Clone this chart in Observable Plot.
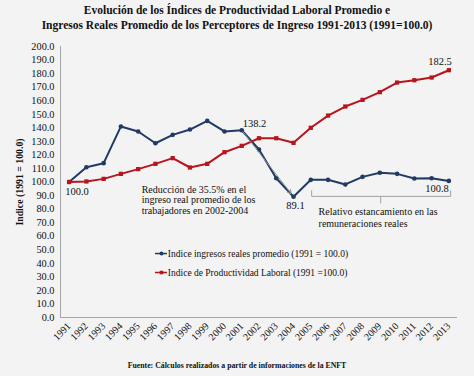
<!DOCTYPE html>
<html><head><meta charset="utf-8">
<script src="https://cdn.jsdelivr.net/npm/d3@7"></script>
<script src="https://cdn.jsdelivr.net/npm/@observablehq/plot@0.6"></script>
<style>
body{margin:0;background:#f3f3f3;width:474px;height:376px;overflow:hidden;font-family:"Liberation Serif",serif;color:#111}
#title{text-align:center;font-weight:bold;font-size:11.5px;line-height:15px;padding-top:3px;height:31px;}
#chart svg{display:block}
#chart svg, #chart svg text{font-family:"Liberation Serif",serif !important}
#chart g[aria-label="y-axis label"] text{font-weight:bold;font-size:9.8px}
#caption{text-align:center;font-weight:bold;font-size:7.8px;line-height:14px;padding-top:3px;}
</style></head>
<body>
<div id="title">Evolución de los Índices de Productividad Laboral Promedio e<br>Ingresos Reales Promedio de los Perceptores de Ingreso 1991-2013 (1991=100.0)</div>
<div id="chart"></div>
<div id="caption">Fuente: Cálculos realizados a partir de informaciones de la ENFT</div>
<script>
const years=[1991,1992,1993,1994,1995,1996,1997,1998,1999,2000,2001,2002,2003,2004,2005,2006,2007,2008,2009,2010,2011,2012,2013];
const ingresos=[100.0,110.9,113.9,141.0,137.3,128.6,134.8,138.7,145.1,137.3,138.2,124.0,102.8,89.1,101.6,101.6,98.2,103.8,106.8,106.0,102.6,102.8,100.8];
const productividad=[100.0,100.4,102.3,106.0,109.5,113.4,117.6,110.7,113.4,122.0,126.7,132.3,132.3,128.9,140.0,149.0,155.7,160.6,166.3,173.4,175.1,177.1,182.5];
const yTicks=[0,10,20,30,40,50,60,70,80,90,100,110,120,130,140,150,160,170,180,190,200];
const seriesNames=["Indice ingresos reales promedio (1991 = 100.0)","Indice de Productividad Laboral (1991 =100.0)"];
const seriesColors=["#1f3a63","#b7141d"];
const noteReduccion="Reducción de 35.5% en el\ningreso real promedio de los\ntrabajadores en 2002-2004";
const noteEstancamiento="Relativo estancamiento en las\nremuneraciones reales";

const rows=[];
years.forEach((yr,i)=>{
  rows.push({year:yr,value:ingresos[i],s:0});
  rows.push({year:yr,value:productividad[i],s:1});
});
const blue=rows.filter(d=>d.s===0), red=rows.filter(d=>d.s===1);

const valueLabels=[
  {year:1991,value:ingresos[0],dx:-4,dy:10,anchor:"start"},
  {year:2001,value:ingresos[10],dx:1,dy:-7,anchor:"start"},
  {year:2004,value:ingresos[13],dx:2,dy:9,anchor:"middle"},
  {year:2013,value:productividad[22],dx:3,dy:-9,anchor:"end"},
  {year:2013,value:ingresos[22],dx:0,dy:8,anchor:"end"}
];
const legend=[
  {label:seriesNames[0],color:seriesColors[0],symbol:"circle",y:47.2},
  {label:seriesNames[1],color:seriesColors[1],symbol:"square",y:33.2}
];
const bracket=[{x:2005.05,y:93.5},{x:2005.05,y:89.4},{x:2013.1,y:89.4},{x:2013.1,y:93.5}];
const bracketTick=[{x:2009.05,y1:89.4,y2:84.2}];

const chart=Plot.plot({
  width:474,height:322,marginTop:12,marginBottom:39,marginLeft:60,marginRight:17,
  style:{fontFamily:"Liberation Serif, serif",fontSize:"10px",background:"transparent",color:"#111"},
  x:{domain:[1990.5,2013.5]},
  y:{domain:[0,200]},
  marks:[
    Plot.ruleX([1990.5],{stroke:"#a6a6a6"}),
    Plot.ruleY([0],{stroke:"#a6a6a6"}),
    Plot.axisY({ticks:yTicks,tickFormat:d=>d.toFixed(1),tickSize:0,tickPadding:6,fontSize:10.3,label:"Indice (1991 = 100.0)",labelAnchor:"center",labelArrow:"none",labelOffset:44}),
    Plot.axisX({ticks:years,tickFormat:d=>String(d),tickRotate:-45,tickSize:0,tickPadding:7,fontSize:10,label:null}),
    Plot.line(blue,{x:"year",y:"value",stroke:seriesColors[0],strokeWidth:2}),
    Plot.dot(blue,{x:"year",y:"value",fill:seriesColors[0],r:2.3,symbol:"circle"}),
    Plot.line(red,{x:"year",y:"value",stroke:seriesColors[1],strokeWidth:2}),
    Plot.dot(red,{x:"year",y:"value",fill:seriesColors[1],r:2.4,symbol:"square"}),
    Plot.text(valueLabels.filter(d=>d.anchor==="start"&&d.dy>0),{x:"year",y:"value",text:d=>d.value.toFixed(1),dx:-4,dy:10,textAnchor:"start",fontSize:10.5}),
    Plot.text(valueLabels.filter(d=>d.anchor==="start"&&d.dy<0),{x:"year",y:"value",text:d=>d.value.toFixed(1),dx:1,dy:-7,textAnchor:"start",fontSize:10.5}),
    Plot.text(valueLabels.filter(d=>d.anchor==="middle"),{x:"year",y:"value",text:d=>d.value.toFixed(1),dx:2,dy:9,fontSize:10.5}),
    Plot.text(valueLabels.filter(d=>d.anchor==="end"&&d.dy<0),{x:"year",y:"value",text:d=>d.value.toFixed(1),dx:3,dy:-9,textAnchor:"end",fontSize:10.5}),
    Plot.text(valueLabels.filter(d=>d.anchor==="end"&&d.dy>0),{x:"year",y:"value",text:d=>d.value.toFixed(1),dx:0,dy:8,textAnchor:"end",fontSize:10.5}),
    Plot.arrow([{x1:2001,y1:ingresos[10],x2:2004,y2:ingresos[13]}],{x1:"x1",y1:"y1",x2:"x2",y2:"y2",stroke:"#8a8a8a",strokeWidth:1,headLength:6,insetStart:2,insetEnd:4}),
    Plot.text([noteReduccion],{x:1995.2,y:97.5,text:d=>d,textAnchor:"start",lineAnchor:"top",fontSize:10,lineHeight:1.05}),
    Plot.line(bracket,{x:"x",y:"y",stroke:"#a0a0a0",strokeWidth:1}),
    Plot.link(bracketTick,{x1:"x",x2:"x",y1:"y1",y2:"y2",stroke:"#a0a0a0",strokeWidth:1}),
    Plot.text([noteEstancamiento],{x:2005.45,y:81.5,text:d=>d,textAnchor:"start",lineAnchor:"top",fontSize:10,lineHeight:1.15}),
    Plot.ruleY(legend,{y:"y",x1:1996.0,x2:1996.7,stroke:"color",strokeWidth:1.5}),
    Plot.dot(legend,{x:1996.35,y:"y",fill:"color",symbol:"symbol",r:2}),
    Plot.text(legend,{x:1996.72,y:"y",text:"label",textAnchor:"start",fontSize:9.5})
  ]
});
document.getElementById("chart").appendChild(chart);
</script>
</body></html>
